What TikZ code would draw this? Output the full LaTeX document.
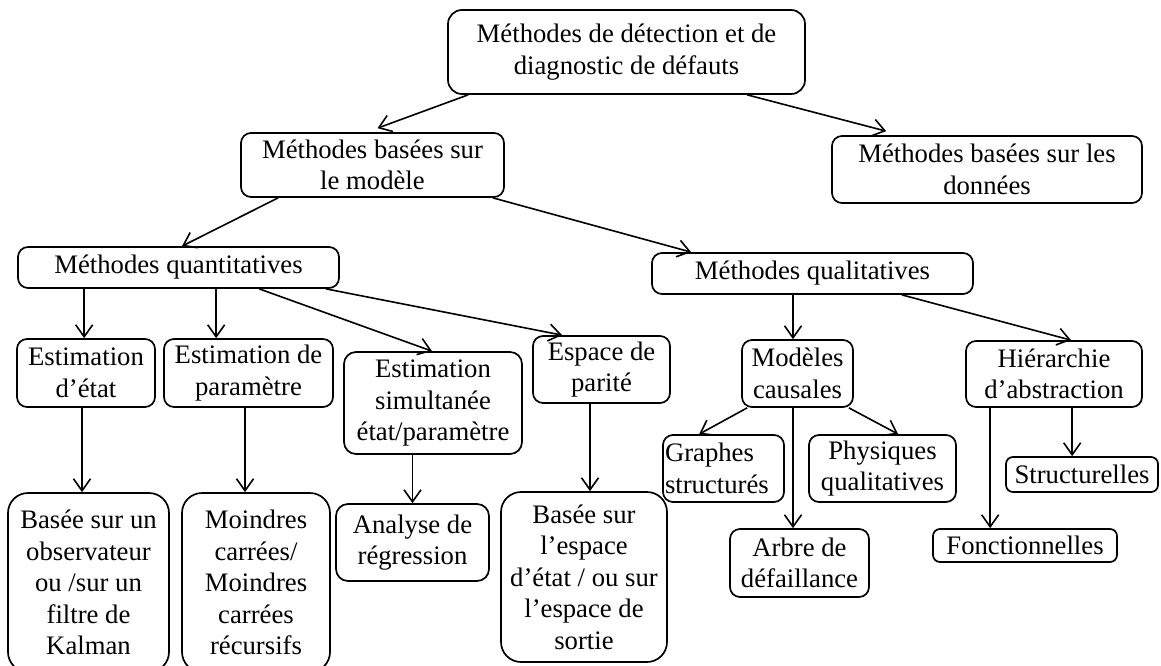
\documentclass[tikz,border=0pt]{standalone}
\usepackage{fontspec}
\setmainfont{Liberation Serif}
\usetikzlibrary{arrows.meta}
\newcommand{\fsz}{\fontsize{26.7}{31.5}\selectfont}
\tikzset{
  box/.style={draw, line width=1.7pt, rounded corners=10pt, align=center, inner sep=0pt, font=\fsz},
  arr/.style={line width=1.6pt, -{Straight Barb[length=12pt,width=17pt,line width=1.6pt]}},
}
\begin{document}
\begin{tikzpicture}[x=1pt,y=-1pt]
\useasboundingbox[fill=white] (0,0) rectangle (1161,666);
% level 0-2
\node[box, minimum width=357pt, minimum height=84pt, rounded corners=14pt] (root) at (626.5,52) {Méthodes de détection et de\\diagnostic de défauts};
\node[box, minimum width=263pt, minimum height=64pt] (model) at (372.5,165) {Méthodes basées sur\\le modèle};
\node[box, minimum width=310pt, minimum height=67pt] (data) at (987,169.5) {Méthodes basées sur les\\données};
\node[box, minimum width=321pt, minimum height=41pt] (quant) at (178.5,267.5) {Méthodes quantitatives};
\node[box, minimum width=321pt, minimum height=41pt] (qual) at (812.5,273.5) {Méthodes qualitatives};
% quantitative branch
\node[box, minimum width=138pt, minimum height=68pt] (ee) at (86,373) {Estimation\\d’état};
\node[box, minimum width=169pt, minimum height=68pt] (ep) at (248.5,373) {Estimation de\\paramètre};
\node[box, minimum width=178pt, minimum height=102pt, rounded corners=12pt] (es) at (433,403) {Estimation\\simultanée\\état/paramètre};
\node[box, minimum width=137pt, minimum height=67pt] (epar) at (601.5,369.5) {Espace de\\parité};
\node[box, minimum width=161pt, minimum height=179pt, rounded corners=20pt] (bobs) at (88.5,582.5) {Basée sur un\\observateur\\ou /sur un\\filtre de\\Kalman};
\node[box, minimum width=148pt, minimum height=179pt, rounded corners=20pt] (moin) at (256,582.5) {Moindres\\carrées/\\Moindres\\carrées\\récursifs};
\node[box, minimum width=153pt, minimum height=77pt, rounded corners=12pt] (anal) at (412.5,542.5) {Analyse de\\régression};
\node[box, minimum width=166pt, minimum height=170pt, rounded corners=20pt] (besp) at (584,577) {Basée sur\\l’espace\\d’état / ou sur\\l’espace de\\sortie};
% qualitative branch
\node[box, minimum width=111pt, minimum height=67pt] (mod) at (797.5,373.5) {Modèles\\causales};
\node[box, minimum width=121pt, minimum height=67pt, align=left, text width=117pt] (graph) at (723.5,468.5) {Graphes\\structurés};
\node[box, minimum width=147pt, minimum height=67pt] (phys) at (882.5,468.5) {Physiques\\qualitatives};
\node[box, minimum width=139pt, minimum height=68pt] (arbre) at (799.5,563) {Arbre de\\défaillance};
\node[box, minimum width=176pt, minimum height=66pt] (hier) at (1054,374) {Hiérarchie\\d’abstraction};
\node[box, minimum width=152pt, minimum height=35pt, rounded corners=7pt] (struct) at (1082,474.5) {Structurelles};
\node[box, minimum width=184pt, minimum height=33pt, rounded corners=7pt] (fonc) at (1025,545.5) {Fonctionnelles};
% connectors
\draw[arr] ([xshift=21pt]root.south west) -- ([xshift=5pt,yshift=4pt]model.north);
\draw[arr] ([xshift=300pt]root.south west) -- ([xshift=55pt,yshift=4pt]data.north west);
\draw[arr] ([xshift=38pt]model.south west) -- ([xshift=3.5pt]quant.north);
\draw[arr] ([xshift=-12pt]model.south east) -- ([xshift=40pt]qual.north west);
\draw[arr] ([xshift=67pt]quant.south west) -- ([xshift=67pt]quant.south west |- ee.north);
\draw[arr] ([xshift=199pt]quant.south west) -- ([xshift=199pt]quant.south west |- ep.north);
\draw[arr] ([xshift=242pt]quant.south west) -- ([xshift=-1pt]es.north);
\draw[arr] ([xshift=-14pt]quant.south east) -- ([xshift=30pt]epar.north west);
\draw[arr] ([xshift=-4pt]ee.south) -- ([xshift=-4pt]ee.south |- bobs.north);
\draw[arr] ([xshift=-3.5pt]ep.south) -- ([xshift=-3.5pt]ep.south |- moin.north);
\draw[arr] (anal.north |- es.south) -- (anal.north);
\draw[arr] ([xshift=-11.5pt]epar.south) -- ([xshift=-11.5pt]epar.south |- besp.north);
\draw[arr] ([xshift=-4.5pt]mod.north |- qual.south) -- ([xshift=-4.5pt]mod.north);
\draw[arr] ([xshift=-72pt]qual.south east) -- ([xshift=17pt]hier.north);
\draw[arr] ([xshift=6pt]mod.south west) -- ([xshift=37pt]graph.north west);
\draw[arr] ([xshift=-5pt]mod.south east) -- ([xshift=90pt]phys.north west);
\draw[arr] ([xshift=-4.5pt]mod.south) -- ([xshift=-4.5pt]mod.south |- arbre.north);
\draw[arr] ([xshift=107pt]hier.south west) -- ([xshift=107pt]hier.south west |- struct.north);
\draw[arr] ([xshift=25pt]hier.south west) -- ([xshift=25pt]hier.south west |- fonc.north);
\end{tikzpicture}
\end{document}
